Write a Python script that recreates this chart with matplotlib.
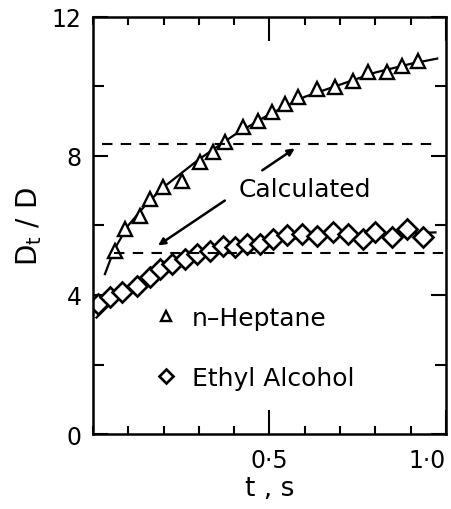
import matplotlib
matplotlib.use('Agg')
import matplotlib.pyplot as plt
from matplotlib.ticker import MultipleLocator

# n-Heptane measured points
hep_t = [0.062, 0.091, 0.133, 0.161, 0.198, 0.252, 0.303, 0.340, 0.374, 0.425,
         0.467, 0.507, 0.544, 0.581, 0.635, 0.686, 0.737, 0.779, 0.833, 0.875, 0.921]
hep_d = [5.27, 5.90, 6.27, 6.76, 7.11, 7.28, 7.83, 8.12, 8.40, 8.83,
         9.01, 9.27, 9.50, 9.70, 9.93, 9.99, 10.16, 10.42, 10.42, 10.59, 10.73]

# ethyl alcohol measured points
eth_t = [0.014, 0.048, 0.082, 0.125, 0.161, 0.190, 0.224, 0.261, 0.295, 0.331,
         0.368, 0.402, 0.436, 0.473, 0.510, 0.550, 0.592, 0.635, 0.680, 0.722,
         0.765, 0.799, 0.847, 0.890, 0.935]
eth_d = [3.74, 3.94, 4.09, 4.26, 4.52, 4.75, 4.89, 5.04, 5.18, 5.27,
         5.41, 5.38, 5.47, 5.47, 5.61, 5.73, 5.76, 5.70, 5.81, 5.76,
         5.61, 5.81, 5.67, 5.90, 5.67]

# fitted curves
hep_fit_t = [0.034, 0.06, 0.10, 0.15, 0.20, 0.30, 0.40, 0.50, 0.60, 0.70, 0.80, 0.90, 0.975]
hep_fit_d = [4.6, 5.3, 6.0, 6.6, 7.1, 7.9, 8.6, 9.2, 9.7, 10.05, 10.4, 10.65, 10.8]
eth_fit_t = [0.01, 0.05, 0.10, 0.15, 0.20, 0.30, 0.40, 0.50, 0.60, 0.70, 0.80, 0.90, 0.97]
eth_fit_d = [3.35, 3.75, 4.15, 4.5, 4.8, 5.15, 5.4, 5.55, 5.65, 5.72, 5.76, 5.78, 5.8]

# calculated levels
calc_hep = 8.35
calc_eth = 5.2

plt.rcParams['font.family'] = 'DejaVu Sans'

fig = plt.figure(figsize=(4.51, 5.10), dpi=100)
ax = fig.add_axes([0.206, 0.147, 0.783, 0.818])

ax.plot(hep_fit_t, hep_fit_d, color='black', lw=1.6)
ax.plot(eth_fit_t, eth_fit_d, color='black', lw=1.6)
ax.plot(hep_t, hep_d, linestyle='none', marker='^', ms=9.5, mfc='white',
        mec='black', mew=1.7, label='n\u2013Heptane')
ax.plot(eth_t, eth_d, linestyle='none', marker='D', ms=10, mfc='white',
        mec='black', mew=1.9, label='Ethyl Alcohol')

ax.hlines(calc_hep, 0.025, 0.965, colors='black', linestyles=(0, (5, 4)), lw=1.5)
ax.hlines(calc_eth, 0.06, 1.0, colors='black', linestyles=(0, (5, 4)), lw=1.5)

ax.text(0.6, 7.05, 'Calculated', fontsize=18, ha='center', va='center')
ax.annotate('', xy=(0.578, 8.26), xytext=(0.473, 7.54),
            arrowprops=dict(arrowstyle='-|>', color='black', lw=1.8, mutation_scale=10))
ax.annotate('', xy=(0.178, 5.38), xytext=(0.380, 6.76),
            arrowprops=dict(arrowstyle='-|>', color='black', lw=1.8, mutation_scale=10))

leg = ax.legend(loc='upper left', bbox_to_anchor=(0.11, 0.362), frameon=False,
                fontsize=18, handlelength=0.9, handletextpad=0.6, labelspacing=1.45,
                markerscale=0.7)

ax.set_xlim(0, 1.0)
ax.set_ylim(0, 12)
ax.set_xticks([0.5, 1.0])
ax.set_xticklabels(['0\u00b75', '1\u00b70'])
ax.get_xticklabels()[-1].set_ha('right')
ax.xaxis.set_minor_locator(MultipleLocator(0.1))
ax.set_yticks([0, 4, 8, 12])
ax.yaxis.set_minor_locator(MultipleLocator(2))

ax.tick_params(which='both', direction='in', top=True, right=True, width=1.5,
               labelsize=17)
ax.tick_params(axis='x', which='major', length=17, pad=10)
ax.tick_params(axis='x', which='minor', length=6)
ax.tick_params(axis='y', which='major', length=11, pad=8)
ax.tick_params(axis='y', which='minor', length=8)

for s in ax.spines.values():
    s.set_linewidth(1.8)

ax.set_xlabel('t , s', fontsize=19, labelpad=2)
ax.set_ylabel('D$_\\mathregular{t}$ / D', fontsize=20, labelpad=6)

fig.savefig('out.png', dpi=100)
